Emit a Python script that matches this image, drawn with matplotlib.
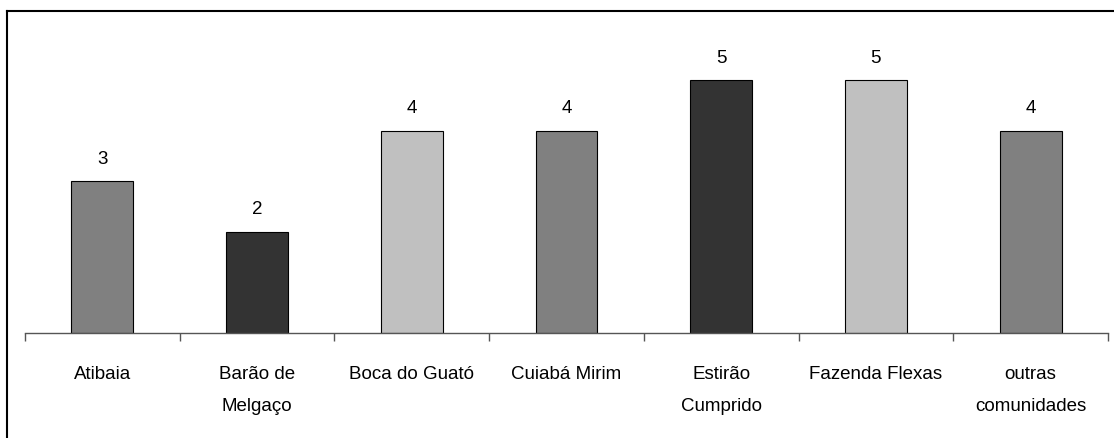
import matplotlib
matplotlib.use("Agg")
import matplotlib.pyplot as plt
from matplotlib.lines import Line2D
import numpy as np

communities = ["Atibaia", "Barão de\nMelgaço", "Boca do Guató", "Cuiabá Mirim",
               "Estirão\nCumprido", "Fazenda Flexas", "outras\ncomunidades"]
counts = [3, 2, 4, 4, 5, 5, 4]
bar_colors = ["#808080", "#333333", "#c0c0c0", "#808080", "#333333", "#c0c0c0", "#808080"]

plt.rcParams['font.family'] = ['Liberation Sans', 'DejaVu Sans']

W, H = 1114, 438
fig = plt.figure(figsize=(W / 100, H / 100), dpi=100)
fig.patch.set_facecolor("white")

# plot area: baseline at y=333 px, 6 units of height
ax = fig.add_axes([25 / W, (H - 333) / H, (1108 - 25) / W, (333 - 29.4) / H])

x = np.arange(len(communities))
bars = ax.bar(x, counts, width=0.4, color=bar_colors, edgecolor="black", linewidth=0.8)

for xi, v in zip(x, counts):
    ax.annotate(str(v), (xi, v), xytext=(0, 12.5), textcoords="offset points",
                ha="center", va="baseline", fontsize=13.5)

ax.set_xlim(-0.5, len(communities) - 0.5)
ax.set_ylim(0, 6)

for s in ["top", "right", "left"]:
    ax.spines[s].set_visible(False)
ax.spines["bottom"].set_color("#555555")
ax.spines["bottom"].set_linewidth(1.0)
ax.set_yticks([])

ax.set_xticks(x)
ax.set_xticklabels(communities, fontsize=13.5, linespacing=2.2, va="top")
ax.tick_params(axis="x", which="major", length=0, pad=23.5)
ax.set_xticks(np.arange(-0.5, len(communities)), minor=True)
ax.tick_params(axis="x", which="minor", length=6, width=1.0, color="#555555", direction="out")

# chart frame (left and top edges)
fig.add_artist(Line2D([7 / W, 7 / W], [0, (H - 11) / H], color="black", linewidth=1.5))
fig.add_artist(Line2D([7 / W, 1], [(H - 11) / H, (H - 11) / H], color="black", linewidth=1.5))

fig.savefig("out.png", dpi=100, facecolor="white")
